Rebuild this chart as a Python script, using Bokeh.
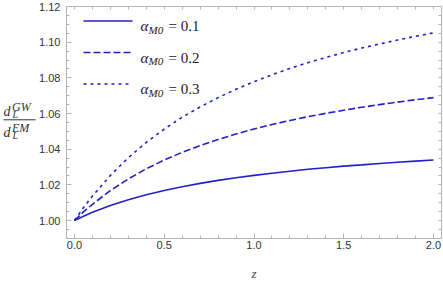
from bokeh.plotting import figure
from bokeh.models import Range1d, LinearAxis, FixedTicker, Label, Arrow, BasicTickFormatter
from bokeh.embed import file_html
from bokeh.resources import INLINE

# ---------------- data ----------------
z = [0.0, 0.05, 0.1, 0.2, 0.3, 0.4, 0.5, 0.6, 0.7, 0.8, 0.9, 1.0,
     1.1, 1.2, 1.3, 1.4, 1.5, 1.6, 1.7, 1.8, 1.9, 2.0]
ratio_a01 = [1.0000, 1.0024, 1.0046, 1.0084, 1.0116, 1.0144, 1.0168, 1.0189, 1.0208, 1.0225, 1.0240,
             1.0253, 1.0265, 1.0276, 1.0287, 1.0296, 1.0305, 1.0312, 1.0320, 1.0327, 1.0333, 1.0339]
ratio_a02 = [1.0000, 1.0048, 1.0091, 1.0168, 1.0233, 1.0290, 1.0339, 1.0382, 1.0420, 1.0454, 1.0485,
             1.0513, 1.0538, 1.0561, 1.0582, 1.0601, 1.0618, 1.0635, 1.0650, 1.0664, 1.0677, 1.0689]
ratio_a03 = [1.0000, 1.0072, 1.0137, 1.0253, 1.0352, 1.0438, 1.0513, 1.0579, 1.0637, 1.0689, 1.0736,
             1.0779, 1.0817, 1.0853, 1.0885, 1.0914, 1.0942, 1.0967, 1.0990, 1.1012, 1.1033, 1.1052]
alpha_values = ["0.1", "0.2", "0.3"]
x_ticks = [0.0, 0.5, 1.0, 1.5, 2.0]
x_tick_labels = ["0.0", "0.5", "1.0", "1.5", "2.0"]
y_ticks = [1.00, 1.02, 1.04, 1.06, 1.08, 1.10, 1.12]
y_tick_labels = ["1.00", "1.02", "1.04", "1.06", "1.08", "1.10", "1.12"]
x_label = "z"

# ---------------- geometry / style ----------------
W, H = 443, 283
X0PX, PXX = 74.0, 179.5      # pixel of z=0, pixels per unit z
Y1PX, PXY = 220.0, 1783.3    # pixel of ratio=1, pixels per unit ratio
LINE_COLOR = "#2222c4"
FRAME_COLOR = "#b4b4b4"
TEXT_COLOR = "#333333"


def X(px):
    return (px - X0PX) / PXX


def Y(py):
    return 1.0 + (Y1PX - py) / PXY


p = figure(width=W, height=H, output_backend="svg", toolbar_location=None,
           x_range=Range1d(X(0), X(W)), y_range=Range1d(Y(H), Y(0)),
           min_border_left=0, min_border_right=0, min_border_top=0, min_border_bottom=0,
           x_axis_location=None, y_axis_location=None)
p.grid.visible = False
p.outline_line_color = None
p.background_fill_color = "white"
p.border_fill_color = "white"

XL, XR = X(66), X(441)     # visible frame box
YB, YT = Y(238), Y(6)

x_minor = [round(0.1 * i, 2) for i in range(0, 21)]
y_minor = [round(0.99 + 0.005 * i, 3) for i in range(0, 27)]

xa = LinearAxis(ticker=FixedTicker(ticks=x_ticks, minor_ticks=x_minor),
                formatter=BasicTickFormatter(precision=1),
                fixed_location=YB, bounds=(XL, XR))
xa.major_label_overrides = {t: s for t, s in zip(x_ticks, x_tick_labels)}
ya = LinearAxis(ticker=FixedTicker(ticks=y_ticks, minor_ticks=y_minor),
                formatter=BasicTickFormatter(precision=2),
                fixed_location=XL, bounds=(YB, YT))
ya.major_label_overrides = {t: s for t, s in zip(y_ticks, y_tick_labels)}

for ax in (xa, ya):
    ax.axis_line_color = FRAME_COLOR
    ax.major_tick_line_color = FRAME_COLOR
    ax.minor_tick_line_color = FRAME_COLOR
    ax.major_tick_in = 5
    ax.major_tick_out = 0
    ax.minor_tick_in = 3
    ax.minor_tick_out = 0
    ax.major_label_text_font = "Liberation Sans"
    ax.major_label_text_font_size = "11px"
    ax.major_label_text_color = TEXT_COLOR
xa.major_label_standoff = 2
ya.major_label_standoff = 6
p.add_layout(xa, "below")
p.add_layout(ya, "left")

# right and top frame sides with ticks, no labels
ra = LinearAxis(ticker=FixedTicker(ticks=[], minor_ticks=y_minor), fixed_location=XR, bounds=(YB, YT))
ta = LinearAxis(ticker=FixedTicker(ticks=[], minor_ticks=x_minor), fixed_location=YT, bounds=(XL, XR))
for ax in (ra, ta):
    ax.axis_line_color = FRAME_COLOR
    ax.minor_tick_line_color = FRAME_COLOR
    ax.major_tick_line_color = None
    ax.minor_tick_in = 3
    ax.minor_tick_out = 0
    ax.major_tick_in = 0
    ax.major_tick_out = 0
    ax.major_label_standoff = 0
p.add_layout(ra, "right")
p.add_layout(ta, "above")

# curves
dashes = ["solid", "7 3", "3 4"]
series = [ratio_a01, ratio_a02, ratio_a03]
for ys, d in zip(series, dashes):
    p.line(z, ys, line_color=LINE_COLOR, line_width=1.6, line_dash=d)

# legend (manual, with subscripted text)
rows = [20.5, 52.0, 83.5]
for ry, d, a in zip(rows, dashes, alpha_values):
    p.add_layout(Arrow(end=None, x_start=X(83), y_start=Y(ry), x_end=X(132), y_end=Y(ry),
                       line_color=LINE_COLOR, line_width=1.6, line_dash=d))
    p.add_layout(Label(x=X(140), y=Y(ry + 5), text="α", text_font="Liberation Serif",
                       text_font_style="italic", text_font_size="15px", text_color="#222222",
                       text_baseline="alphabetic"))
    p.add_layout(Label(x=X(148), y=Y(ry + 8.5), text="M0", text_font="Liberation Serif",
                       text_font_style="italic", text_font_size="11px", text_color="#222222",
                       text_baseline="alphabetic"))
    p.add_layout(Label(x=X(168), y=Y(ry + 5), text="= " + a, text_font="Liberation Serif",
                       text_font_size="15px", text_color="#222222",
                       text_baseline="alphabetic"))


def lab(px, py, t, size, italic=True, color=TEXT_COLOR, align="left", baseline="alphabetic"):
    p.add_layout(Label(x=X(px), y=Y(py), text=t, text_font="Liberation Serif",
                       text_font_style="italic" if italic else "normal",
                       text_font_size=size, text_color=color,
                       text_align=align, text_baseline=baseline))


# y-axis label: d_L^GW / d_L^EM
lab(3, 110.7, "d", "14px")
lab(11.5, 106.5, "GW", "12px")
lab(12, 113.8, "L", "10px")
p.add_layout(Arrow(end=None, x_start=X(3), y_start=Y(119.3), x_end=X(35), y_end=Y(119.3),
                   line_color=TEXT_COLOR, line_width=1))
lab(3, 131.7, "d", "14px")
lab(11.5, 127.3, "EM", "12px")
lab(12, 134.5, "L", "10px")

# x-axis label
lab(253.5, 273, x_label, "13px", color="#444444", align="center", baseline="middle")

open("out.html", "w").write(file_html(p, INLINE))
